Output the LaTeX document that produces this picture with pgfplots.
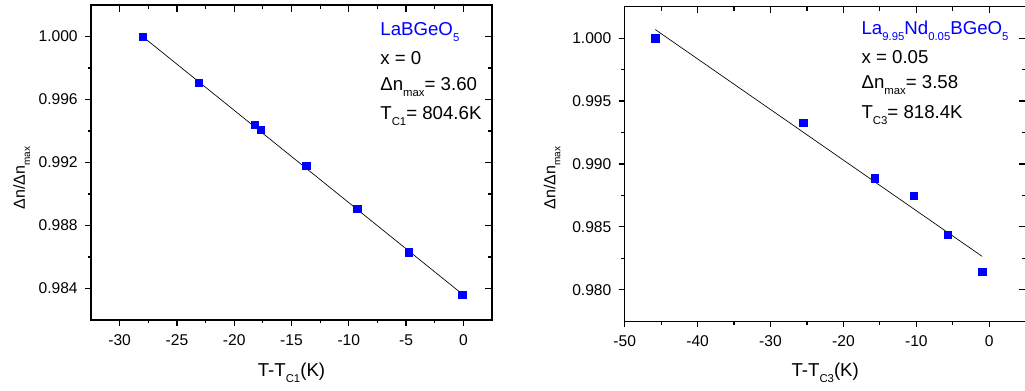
\documentclass[border=0pt]{standalone}
\usepackage{fontspec}
\setmainfont{Liberation Sans}
\usepackage{pgfplots}
\pgfplotsset{compat=1.18}
\newcommand{\sub}[1]{\raisebox{-4.5pt}{\fontsize{8.5}{9}\selectfont #1}}
\newcommand{\ssub}[1]{\raisebox{-3.8pt}{\fontsize{7.5}{8}\selectfont #1}}
\pgfplotsset{
  mybase/.style={
    scale only axis,
    anchor=south west,
    axis line style={line width=1.1pt},
    every tick/.style={line width=0.9pt, black},
    minor tick num=1,
    scaled y ticks=false,
    tick label style={font=\fontsize{11.7}{13}\selectfont},
    /pgf/number format/assume math mode=true,
    clip=false,
  },
  mainax/.style={mybase,
    tick align=outside,
    tick pos=left,
    major tick length=4.5pt,
    minor tick length=2.5pt,
    xticklabel style={yshift=-3pt},
    yticklabel style={xshift=-2pt, /pgf/number format/.cd, fixed, fixed zerofill, precision=3},
  },
  mirrorax/.style={mybase,
    tick align=inside,
    tick pos=right,
    major tick length=5pt,
    minor tick length=3pt,
    xticklabels={}, yticklabels={},
  },
}
\begin{document}
\begin{tikzpicture}
% ---------------- left panel ----------------
\begin{axis}[mainax,
  at={(68.25pt,53.25pt)}, width=300.75pt, height=236.25pt,
  xmin=-32.5, xmax=2.5, ymin=0.982, ymax=1.002,
  xtick={-30,-25,-20,-15,-10,-5,0},
  ytick={0.984,0.988,0.992,0.996,1.000},
  xlabel={T-T\sub{C1}(K)},
  every axis x label/.style={at={(axis description cs:0.5,-0.180)}, anchor=base, font=\fontsize{14}{16}\selectfont},
]
\addplot[black, line width=0.5pt, no marks] coordinates {(-28,1.0000) (-0.1,0.98365)};
\addplot[only marks, mark=square*, mark size=2.75pt, blue, mark options={draw=blue, fill=blue}] coordinates {
(-28.0,1.00000)
(-23.1,0.99706)
(-18.2,0.99439)
(-17.7,0.99407)
(-13.7,0.99180)
(-9.27,0.98907)
(-4.78,0.98629)
(-0.1,0.98362)
};
\node[anchor=base, rotate=90, font=\fontsize{12}{14}\selectfont] at (axis description cs:-0.1646,0.451) {Δn/Δn\ssub{max}};
\node[anchor=base west, text=blue, font=\fontsize{14}{16}\selectfont, inner sep=0pt] at (rel axis cs:0.721,0.902) {LaBGeO\sub{5}};
\node[anchor=base west, font=\fontsize{14}{16}\selectfont, inner sep=0pt] at (rel axis cs:0.721,0.810) {x = 0};
\node[anchor=base west, font=\fontsize{14}{16}\selectfont, inner sep=0pt] at (rel axis cs:0.721,0.728) {Δn\sub{max}= 3.60};
\node[anchor=base west, font=\fontsize{14}{16}\selectfont, inner sep=0pt] at (rel axis cs:0.721,0.638) {T\sub{C1}= 804.6K};
\end{axis}
\begin{axis}[mirrorax,
  at={(68.25pt,53.25pt)}, width=300.75pt, height=236.25pt,
  xmin=-32.5, xmax=2.5, ymin=0.982, ymax=1.002,
  xtick={-30,-25,-20,-15,-10,-5,0},
  ytick={0.984,0.988,0.992,0.996,1.000},
]
\addplot[draw=none] coordinates {(-30,0.99)};
\end{axis}
% ---------------- right panel ----------------
\begin{axis}[mainax,
  at={(468.5pt,52.3pt)}, width=300.8pt, height=235.95pt,
  xmin=-50, xmax=5, ymin=0.9775, ymax=1.0025,
  xtick={-50,-40,-30,-20,-10,0},
  ytick={0.980,0.985,0.990,0.995,1.000},
  xlabel={T-T\sub{C3}(K)},
  every axis x label/.style={at={(axis description cs:0.5,-0.176)}, anchor=base, font=\fontsize{14}{16}\selectfont},
]
\addplot[black, line width=0.5pt, no marks] coordinates {(-45.8,1.00068) (-0.96,0.98265)};
\addplot[only marks, mark=square*, mark size=2.75pt, blue, mark options={draw=blue, fill=blue}] coordinates {
(-45.8,1.00000)
(-25.5,0.99326)
(-15.67,0.98886)
(-10.37,0.98745)
(-5.66,0.98438)
(-0.96,0.98141)
};
\node[anchor=base, rotate=90, font=\fontsize{12}{14}\selectfont] at (axis description cs:-0.173,0.455) {Δn/Δn\ssub{max}};
\node[anchor=base west, text=blue, font=\fontsize{14}{16}\selectfont, inner sep=0pt] at (rel axis cs:0.590,0.912) {La\sub{9.95}Nd\sub{0.05}BGeO\sub{5}};
\node[anchor=base west, font=\fontsize{14}{16}\selectfont, inner sep=0pt] at (rel axis cs:0.590,0.818) {x = 0.05};
\node[anchor=base west, font=\fontsize{14}{16}\selectfont, inner sep=0pt] at (rel axis cs:0.590,0.741) {Δn\sub{max}= 3.58};
\node[anchor=base west, font=\fontsize{14}{16}\selectfont, inner sep=0pt] at (rel axis cs:0.590,0.643) {T\sub{C3}= 818.4K};
\end{axis}
\begin{axis}[mirrorax,
  at={(468.5pt,52.3pt)}, width=300.8pt, height=235.95pt,
  xmin=-50, xmax=5, ymin=0.9775, ymax=1.0025,
  xtick={-50,-40,-30,-20,-10,0},
  ytick={0.980,0.985,0.990,0.995,1.000},
]
\addplot[draw=none] coordinates {(-30,0.99)};
\end{axis}
\pgfresetboundingbox
\useasboundingbox (0,0) rectangle (768.75pt,293.25pt);
\end{tikzpicture}
\end{document}
